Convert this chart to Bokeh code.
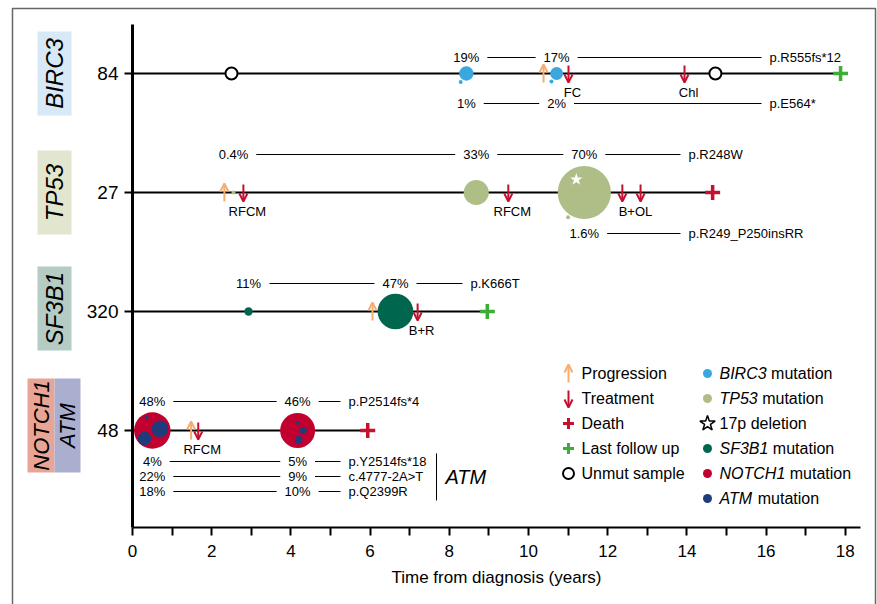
import math
from bokeh.plotting import figure
from bokeh.models import ColumnDataSource, Range1d, FixedTicker, Arrow, OpenHead
from bokeh.core.properties import value
from bokeh.embed import file_html
from bokeh.resources import INLINE

# ---------------- data ----------------
genes = ["BIRC3", "TP53", "SF3B1", "NOTCH1"]
patient_ids = ["84", "27", "320", "48"]
lane_y = [4, 3, 2, 1]

birc3_samples = [8.43, 10.71]
birc3_unmut = [2.5, 14.72]
birc3_progression = [10.38]
birc3_treatment = [11.01, 13.94]
birc3_treat_labels = ["FC", "Chl"]
birc3_treat_label_x = [11.01, 13.94]
birc3_death = []
birc3_followup = [17.88]
birc3_vaf_R555fs = [19, 17]
birc3_vaf_E564 = [1, 2]

tp53_samples = [2.55, 8.68, 11.41]
tp53_unmut = []
tp53_progression = [2.32]
tp53_treatment = [2.80, 9.49, 12.37, 12.83]
tp53_treat_labels = ["RFCM", "RFCM", "B+OL"]
tp53_treat_label_x = [2.80, 9.49, 12.60]
tp53_death = [14.65]
tp53_followup = []
tp53_vaf_R248W = [0.4, 33, 70]
tp53_vaf_insRR = [0, 0, 1.6]
tp53_del17p = [False, False, True]

sf3b1_samples = [2.93, 6.64]
sf3b1_unmut = []
sf3b1_progression = [6.06]
sf3b1_treatment = [7.20]
sf3b1_treat_labels = ["B+R"]
sf3b1_treat_label_x = [7.20]
sf3b1_death = []
sf3b1_followup = [8.96]
sf3b1_vaf_K666T = [11, 47]

notch1_samples = [0.50, 4.17]
notch1_unmut = []
notch1_progression = [1.48]
notch1_treatment = [1.66]
notch1_treat_labels = ["RFCM"]
notch1_treat_label_x = [1.66]
notch1_death = [5.94]
notch1_followup = []
notch1_vaf_P2514fs = [48, 46]
atm_vaf_Y2514fs = [4, 5]
atm_vaf_c4777 = [22, 9]
atm_vaf_Q2399R = [18, 10]

legend_left_labels = ["Progression", "Treatment", "Death", "Last follow up", "Unmut sample"]
legend_right_genes = ["BIRC3", "TP53", "", "SF3B1", "NOTCH1", "ATM"]
legend_right_rest = ["mutation", "mutation", "17p deletion", "mutation", "mutation", "mutation"]

# ---------------- styles ----------------
BIRC3_C = "#3BA7DF"
TP53_C = "#AEBE86"
SF3B1_C = "#00664D"
NOTCH1_C = "#C20030"
ATM_C = "#1E3C7C"
PROG_C = "#F6AD70"
TREAT_C = "#C5102F"
DEATH_C = "#C5102F"
FOLLOW_C = "#3CAD35"
BOX_C = {"BIRC3": "#D7E8F7", "TP53": "#E2E6CF", "SF3B1": "#B4CCC3",
         "NOTCH1": "#E8A596", "ATM": "#ABAFCF"}
FONT = "Liberation Sans"

W, H = 877, 604
PX_X = 39.6          # pixels per year
PX_Y = 119.0         # pixels per lane
X0_PX = 132          # canvas x of time 0
LANE4_PY = 73        # canvas y of the top lane
AXIS_PY = 527        # canvas y of the time axis
AXIS_TOP_PY = 24
AXIS_RIGHT_PX = 860


def X(px):
    return (px - X0_PX) / PX_X


def Y(py):
    return 4 - (py - LANE4_PY) / PX_Y


def ox(px):
    return px / PX_X


def oy(px):
    return -px / PX_Y


ADV = {'%': 889, '.': 278, ' ': 278, 'A': 667, 'B': 667, 'C': 722, 'D': 722, 'E': 667,
       'F': 611, 'H': 722, 'I': 278, 'L': 556, 'M': 833, 'N': 722, 'O': 778, 'P': 667,
       'R': 722, 'S': 667, 'T': 611}


def tw(s, size):
    return sum(ADV.get(c, 556) for c in s) * size / 1000.0


def rad(v):
    return max(0.38 * v, 2.0)


def fmt(v):
    return f"{v:g}%"


PCT_SIZE = 13
GAP = 8

lanes = [
    dict(gene="BIRC3", lane=lane_y[0], samples=birc3_samples, unmut=birc3_unmut,
         prog=birc3_progression, treat=birc3_treatment, tl=birc3_treat_labels,
         tlx=birc3_treat_label_x, death=birc3_death, follow=birc3_followup, color=BIRC3_C,
         name_px=769,
         rows=[("p.R555fs*12", birc3_vaf_R555fs, -16, "main"),
               ("p.E564*", birc3_vaf_E564, 30, "sub")]),
    dict(gene="TP53", lane=lane_y[1], samples=tp53_samples, unmut=tp53_unmut,
         prog=tp53_progression, treat=tp53_treatment, tl=tp53_treat_labels,
         tlx=tp53_treat_label_x, death=tp53_death, follow=tp53_followup, color=TP53_C,
         name_px=688,
         rows=[("p.R248W", tp53_vaf_R248W, -38, "main"),
               ("p.R249_P250insRR", tp53_vaf_insRR, 41, "sub")]),
    dict(gene="SF3B1", lane=lane_y[2], samples=sf3b1_samples, unmut=sf3b1_unmut,
         prog=sf3b1_progression, treat=sf3b1_treatment, tl=sf3b1_treat_labels,
         tlx=sf3b1_treat_label_x, death=sf3b1_death, follow=sf3b1_followup, color=SF3B1_C,
         name_px=470,
         rows=[("p.K666T", sf3b1_vaf_K666T, -28, "main")]),
    dict(gene="NOTCH1", lane=lane_y[3], samples=notch1_samples, unmut=notch1_unmut,
         prog=notch1_progression, treat=notch1_treatment, tl=notch1_treat_labels,
         tlx=notch1_treat_label_x, death=notch1_death, follow=notch1_followup, color=NOTCH1_C,
         name_px=348,
         rows=[("p.P2514fs*4", notch1_vaf_P2514fs, -29, "main"),
               ("p.Y2514fs*18", atm_vaf_Y2514fs, 31, "atm0"),
               ("c.4777-2A>T", atm_vaf_c4777, 46, "atm1"),
               ("p.Q2399R", atm_vaf_Q2399R, 61, "atm2")]),
]
ATM_OFFSETS = {"atm0": [(-5.7, -13.0), (0.4, -7.7)],
               "atm1": [(7.6, -1.7), (5.7, 0.0)],
               "atm2": [(-7.7, 8.0), (1.0, 9.3)]}
# gene boxes: (gene, left px, right px, centre shift px, half height px, font px)
GENE_BOXES = {"BIRC3": [("BIRC3", 37, 71, 0, 42, 24)],
              "TP53": [("TP53", 37, 71, 0, 42, 24)],
              "SF3B1": [("SF3B1", 37, 71, -3, 42, 24)],
              "NOTCH1": [("NOTCH1", 27, 54, -5, 47, 22), ("ATM", 54, 80, -5, 47, 22)]}

# ---------------- figure ----------------
p = figure(width=W, height=H, x_range=Range1d(X(0), X(W)), y_range=Range1d(Y(H), Y(0)),
           output_backend="svg", toolbar_location=None, min_border=0)
p.grid.visible = False
p.outline_line_color = None
p.background_fill_color = "white"
p.border_fill_color = "white"

xa = p.xaxis[0]
xa.fixed_location = Y(AXIS_PY)
xa.bounds = (0, X(AXIS_RIGHT_PX))
xa.ticker = FixedTicker(ticks=list(range(0, 19)))
xa.major_label_overrides = {i: ("" if i % 2 else str(i)) for i in range(0, 19)}
xa.axis_line_width = 2
xa.major_tick_line_width = 2
xa.major_tick_out = 8
xa.major_tick_in = 0
xa.minor_tick_line_color = None
xa.major_label_standoff = 9
xa.major_label_text_font = FONT
xa.major_label_text_font_size = "17px"
xa.major_label_text_color = "black"
xa.axis_label = "Time from diagnosis (years)"
xa.axis_label_text_font = FONT
xa.axis_label_text_font_size = "17px"
xa.axis_label_text_font_style = "normal"
xa.axis_label_text_color = "black"
xa.axis_label_standoff = 8

ya = p.yaxis[0]
ya.fixed_location = 0
ya.bounds = (Y(AXIS_PY), Y(AXIS_TOP_PY))
ya.ticker = FixedTicker(ticks=lane_y)
ya.major_label_overrides = {ly: pid for ly, pid in zip(lane_y, patient_ids)}
ya.axis_line_width = 3
ya.major_tick_line_width = 2
ya.major_tick_out = 8
ya.major_tick_in = 0
ya.minor_tick_line_color = None
ya.major_label_standoff = 6
ya.major_label_text_font = FONT
ya.major_label_text_font_size = "19px"
ya.major_label_text_color = "black"

# outer frame
p.quad(left=[X(12)], right=[X(875)], top=[Y(8)], bottom=[Y(H + 40)], fill_color=None,
       line_color="#666666", line_width=1.5)

# gene name boxes
gb = dict(l=[], r=[], t=[], b=[], c=[])
gt = dict(x=[], y=[], t=[], fs=[])
for L in lanes:
    for g, l, r, sh, hh, fs in GENE_BOXES[L["gene"]]:
        gb["l"].append(X(l)); gb["r"].append(X(r))
        gb["t"].append(L["lane"] + oy(sh - hh)); gb["b"].append(L["lane"] + oy(sh + hh))
        gb["c"].append(BOX_C[g])
        gt["x"].append(X((l + r) / 2)); gt["y"].append(L["lane"] + oy(sh)); gt["t"].append(g)
        gt["fs"].append(f"{fs}px")
p.quad(left="l", right="r", top="t", bottom="b", fill_color="c", line_color=None,
       source=ColumnDataSource(gb))
p.text(x="x", y="y", text="t", text_font_size="fs", source=ColumnDataSource(gt),
       angle=math.pi / 2, text_align="center", text_baseline="middle",
       text_font=value(FONT), text_font_style="italic", text_color="black")

# lane lines
ends = [max(L["samples"] + L["unmut"] + L["death"] + L["follow"] + L["treat"]) for L in lanes]
p.segment(x0=[0] * len(lanes), y0=[L["lane"] for L in lanes], x1=ends,
          y1=[L["lane"] for L in lanes], line_color="black", line_width=2)

# label rows + connector lines
seg = dict(x0=[], y0=[], x1=[], y1=[])
pct = dict(x=[], y=[], t=[])
names = dict(x=[], y=[], t=[])
for L in lanes:
    for mut, vafs, off, kind in L["rows"]:
        y = L["lane"] + oy(off)
        xs, ts = [], []
        for s, v in zip(L["samples"], vafs):
            if v > 0:
                xs.append(s)
                ts.append(fmt(v))
        for i in range(len(xs)):
            a = xs[i] + ox(tw(ts[i], PCT_SIZE) / 2 + GAP)
            if i + 1 < len(xs):
                b = xs[i + 1] - ox(tw(ts[i + 1], PCT_SIZE) / 2 + GAP)
            else:
                b = X(L["name_px"]) - ox(GAP)
            seg["x0"].append(a); seg["x1"].append(b)
            seg["y0"].append(y); seg["y1"].append(y)
        pct["x"] += xs; pct["y"] += [y] * len(xs); pct["t"] += ts
        names["x"].append(X(L["name_px"])); names["y"].append(y); names["t"].append(mut)

p.segment(x0="x0", y0="y0", x1="x1", y1="y1", source=ColumnDataSource(seg),
          line_color="black", line_width=1)
p.text(x="x", y="y", text="t", source=ColumnDataSource(pct), text_align="center",
       text_baseline="middle", text_font=value(FONT), text_font_size=value(f"{PCT_SIZE}px"),
       text_color="black")
p.text(x="x", y="y", text="t", source=ColumnDataSource(names), text_align="left",
       text_baseline="middle", text_font=value(FONT), text_font_size=value(f"{PCT_SIZE}px"),
       text_color="black")

# ATM bracket
nl = lanes[3]["lane"]
p.segment(x0=[X(436)], y0=[nl + oy(23)], x1=[X(436)], y1=[nl + oy(70)],
          line_color="black", line_width=1)
p.text(x=[X(445)], y=[nl + oy(46)], text=["ATM"], text_align="left", text_baseline="middle",
       text_font=value(FONT), text_font_style="italic", text_font_size=value("20px"),
       text_color="black")

# bubbles
for L in lanes:
    main = [r for r in L["rows"] if r[3] == "main"][0]
    mx, my, ms = [], [], []
    for s, v in zip(L["samples"], main[1]):
        if v > 0:
            mx.append(s); my.append(L["lane"]); ms.append(2 * rad(v))
    p.scatter(x=mx, y=my, size=ms, marker="circle", fill_color=L["color"], line_color=None)
    for mut, vafs, off, kind in L["rows"]:
        if kind == "sub":
            sx, sy, ss = [], [], []
            for s, v, vm in zip(L["samples"], vafs, main[1]):
                if v > 0:
                    d = rad(vm) + 3
                    sx.append(s + ox(-0.55 * d)); sy.append(L["lane"] + oy(0.84 * d))
                    ss.append(2 * rad(v))
            p.scatter(x=sx, y=sy, size=ss, marker="circle", fill_color=L["color"],
                      line_color=None)
        elif kind.startswith("atm"):
            sx, sy, ss = [], [], []
            for j, (s, v) in enumerate(zip(L["samples"], vafs)):
                dxp, dyp = ATM_OFFSETS[kind][j]
                sx.append(s + ox(dxp)); sy.append(L["lane"] + oy(dyp)); ss.append(2 * rad(v))
            p.scatter(x=sx, y=sy, size=ss, marker="circle", fill_color=ATM_C, line_color=None)

# 17p deletion star
tp = lanes[1]
stx = [s + ox(-8) for s, d in zip(tp["samples"], tp53_del17p) if d]
sty = [tp["lane"] + oy(-13) for s, d in zip(tp["samples"], tp53_del17p) if d]
p.scatter(x=stx, y=sty, marker="star", size=13, fill_color="white", line_color=None)

# unmutated samples
ux = sum([L["unmut"] for L in lanes], [])
uy = sum([[L["lane"]] * len(L["unmut"]) for L in lanes], [])
p.scatter(x=ux, y=uy, marker="circle", size=12, fill_color="white", line_color="black",
          line_width=2)


def add_arrows(xs, ys, up, color):
    if not xs:
        return
    if up:
        y0 = [y + oy(9) for y in ys]; y1 = [y + oy(-9) for y in ys]
    else:
        y0 = [y + oy(-8) for y in ys]; y1 = [y + oy(9) for y in ys]
    src = ColumnDataSource(dict(x=list(xs), y0=y0, y1=y1))
    p.add_layout(Arrow(end=OpenHead(size=8, line_color=color, line_width=2),
                       x_start="x", y_start="y0", x_end="x", y_end="y1", source=src,
                       line_color=color, line_width=2))


for L in lanes:
    add_arrows(L["prog"], [L["lane"]] * len(L["prog"]), True, PROG_C)
    add_arrows(L["treat"], [L["lane"]] * len(L["treat"]), False, TREAT_C)

# deaths / follow-ups
dx_ = sum([L["death"] for L in lanes], [])
dy_ = sum([[L["lane"]] * len(L["death"]) for L in lanes], [])
p.scatter(x=dx_, y=dy_, marker="cross", size=15, line_color=DEATH_C, line_width=3.5)
fx = sum([L["follow"] for L in lanes], [])
fy = sum([[L["lane"]] * len(L["follow"]) for L in lanes], [])
p.scatter(x=fx, y=fy, marker="cross", size=15, line_color=FOLLOW_C, line_width=3.5)

# treatment labels
tlab = dict(x=[], y=[], t=[])
for L in lanes:
    for t, x in zip(L["tl"], L["tlx"]):
        tlab["x"].append(x + ox(4)); tlab["y"].append(L["lane"] + oy(19)); tlab["t"].append(t)
p.text(x="x", y="y", text="t", source=ColumnDataSource(tlab), text_align="center",
       text_baseline="middle", text_font=value(FONT), text_font_size=value("13px"),
       text_color="black")

# ---------------- legend ----------------
LEG_TOP, LEG_ROW = 373, 25
lrow = [Y(LEG_TOP + i * LEG_ROW) for i in range(6)]
lmx, ltx, rmx, rtx = X(568), X(581), X(707), X(719)
add_arrows([lmx], [lrow[0]], True, PROG_C)
add_arrows([lmx], [lrow[1]], False, TREAT_C)
p.scatter(x=[lmx], y=[lrow[2]], marker="cross", size=11, line_color=DEATH_C, line_width=3)
p.scatter(x=[lmx], y=[lrow[3]], marker="cross", size=11, line_color=FOLLOW_C, line_width=3)
p.scatter(x=[lmx], y=[lrow[4]], marker="circle", size=11, fill_color="white",
          line_color="black", line_width=2)
p.text(x=[ltx] * 5, y=lrow[:5], text=legend_left_labels, text_align="left",
       text_baseline="middle", text_font=value(FONT), text_font_size=value("16px"),
       text_color="black")

leg_colors = [BIRC3_C, TP53_C, None, SF3B1_C, NOTCH1_C, ATM_C]
for i, (g, rest, c) in enumerate(zip(legend_right_genes, legend_right_rest, leg_colors)):
    if c is None:
        p.scatter(x=[rmx], y=[lrow[i]], marker="star", size=16, fill_color="white",
                  line_color="black", line_width=1.5)
        p.text(x=[rtx], y=[lrow[i]], text=[rest], text_align="left", text_baseline="middle",
               text_font=value(FONT), text_font_size=value("16px"), text_color="black")
        continue
    p.scatter(x=[rmx], y=[lrow[i]], marker="circle", size=9, fill_color=c, line_color=None)
    p.text(x=[rtx], y=[lrow[i]], text=[g], text_align="left", text_baseline="middle",
           text_font=value(FONT), text_font_style="italic", text_font_size=value("16px"),
           text_color="black")
    p.text(x=[rtx + ox(tw(g + " ", 16))], y=[lrow[i]], text=[rest], text_align="left",
           text_baseline="middle", text_font=value(FONT), text_font_size=value("16px"),
           text_color="black")

open("out.html", "w").write(file_html(p, INLINE))
